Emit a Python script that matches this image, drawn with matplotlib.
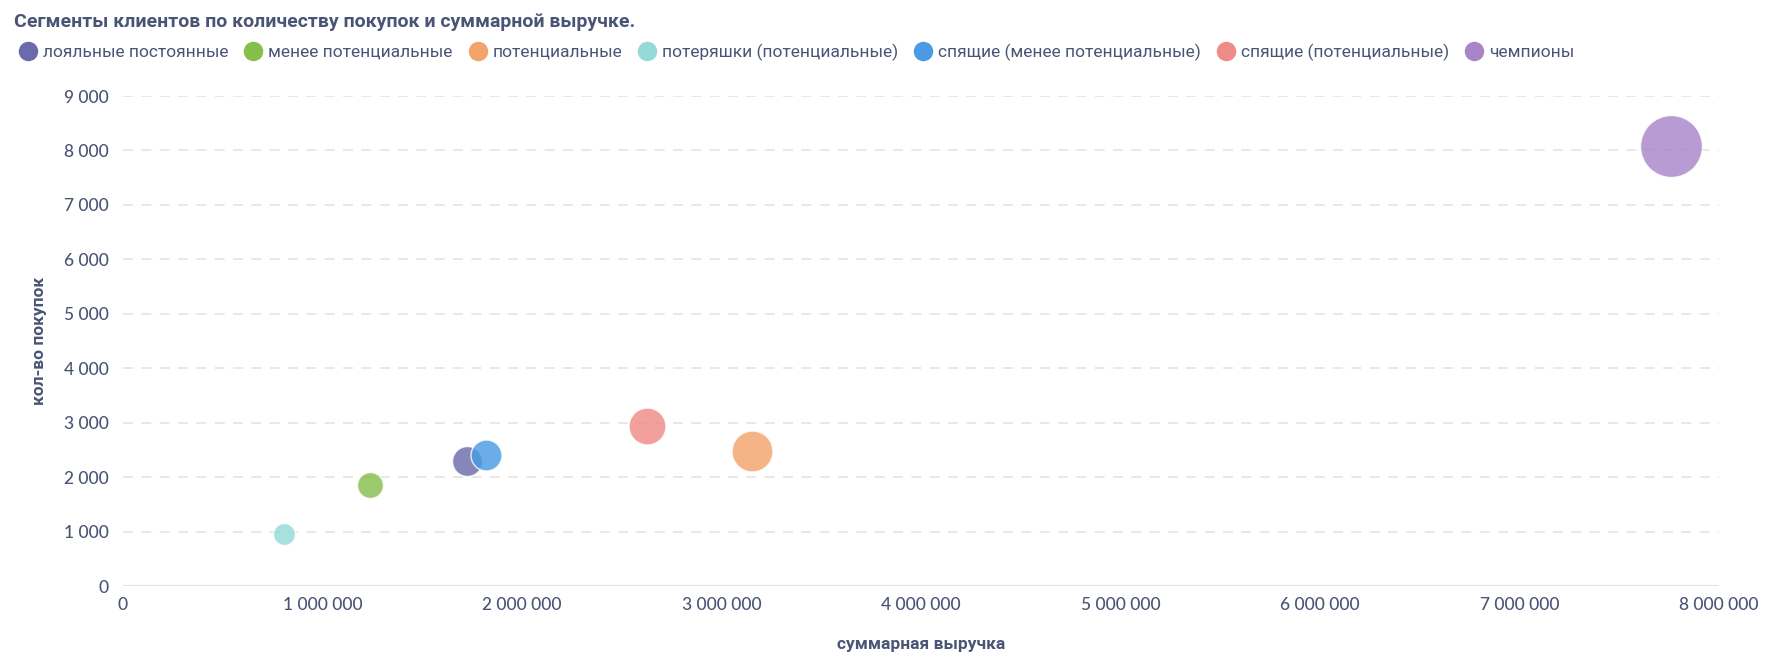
import matplotlib
matplotlib.use("Agg")
import matplotlib.pyplot as plt
from matplotlib import font_manager
from matplotlib.lines import Line2D
from matplotlib.ticker import FuncFormatter

# data
segments = [
    "лояльные постоянные",
    "менее потенциальные",
    "потенциальные",
    "потеряшки (потенциальные)",
    "спящие (менее потенциальные)",
    "спящие (потенциальные)",
    "чемпионы",
]
revenue = [1724000, 1236000, 3155000, 805000, 1818000, 2629000, 7760000]
purchases = [2305, 1855, 2489, 964, 2406, 2944, 8082]
bubble_weight = [225, 169, 420, 121, 240, 342, 961]
colors = ["#6b6bab", "#86be4a", "#f2a46c", "#95d9d9", "#4a9be3", "#ef8b87", "#a985c8"]

x_ticks = [0, 1000000, 2000000, 3000000, 4000000, 5000000, 6000000, 7000000, 8000000]
y_ticks = [0, 1000, 2000, 3000, 4000, 5000, 6000, 7000, 8000, 9000]

TEXT = "#4a5475"
GRID = "#e4e4e4"

installed = {f.name for f in font_manager.fontManager.ttflist}
narrow = "Liberation Sans Narrow" if "Liberation Sans Narrow" in installed else "Roboto"
nums = "Lato" if "Lato" in installed else "DejaVu Sans"


def spaced(v, pos=None):
    return f"{int(round(v)):,}".replace(",", " ")


fig = plt.figure(figsize=(17.79, 6.60), dpi=100)
ax = fig.add_axes([0.0691, 0.1121, 0.8972, 0.7424])

for i in range(len(segments)):
    ax.scatter(revenue[i], purchases[i], s=bubble_weight[i] * 2.07,
               color=colors[i], alpha=0.82, edgecolors="white",
               linewidths=1.0, zorder=3)

ax.set_xlim(0, 8000000)
ax.set_ylim(0, 9000)
ax.set_xticks(x_ticks)
ax.set_yticks(y_ticks)
ax.xaxis.set_major_formatter(FuncFormatter(spaced))
ax.yaxis.set_major_formatter(FuncFormatter(spaced))

for sp in ax.spines.values():
    sp.set_visible(False)
ax.tick_params(length=0, colors=TEXT, labelsize=12.5)
ax.tick_params(axis="y", pad=10)
ax.tick_params(axis="x", pad=8)
for lab in ax.get_xticklabels() + ax.get_yticklabels():
    lab.set_family(nums)
    lab.set_fontweight("medium")

for v in y_ticks[1:]:
    ax.axhline(v, color=GRID, lw=1.2, ls=(0, (6, 5)), zorder=1)
ax.axhline(0, color=GRID, lw=1.5, zorder=1)

ax.set_xlabel("суммарная выручка", family=narrow, fontweight="bold",
              fontsize=12.5, color=TEXT, labelpad=17)
ax.set_ylabel("кол-во покупок", family=narrow, fontweight="bold",
              fontsize=12.5, color=TEXT, labelpad=12)

fig.text(0.008, 0.966, "Сегменты клиентов по количеству покупок и суммарной выручке.",
         family=narrow, fontweight="bold", fontsize=14, color=TEXT,
         ha="left", va="center")

handles = [Line2D([], [], marker="o", ls="none", markersize=13,
                  markerfacecolor=c, markeredgecolor=c) for c in colors]
fig.legend(handles, segments, loc="center left", bbox_to_anchor=(0.001, 0.921),
           ncol=len(segments), frameon=False, handletextpad=0.25,
           columnspacing=0.85, handlelength=1.2,
           prop={"family": narrow, "size": 12.5}, labelcolor=TEXT)

fig.savefig("out.png", dpi=100)
